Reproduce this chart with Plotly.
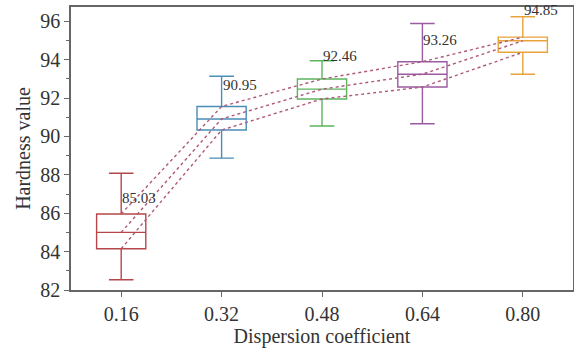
import plotly.graph_objects as go

categories = ["0.16", "0.32", "0.48", "0.64", "0.80"]
lower_whisker = [82.53, 88.87, 90.54, 90.66, 93.24]
q1 = [84.15, 90.33, 91.95, 92.57, 94.38]
median = [85.00, 90.91, 92.46, 93.24, 94.98]
q3 = [85.96, 91.56, 92.99, 93.89, 95.17]
upper_whisker = [88.08, 93.13, 93.94, 95.88, 96.23]
mean_labels = ["85.03", "90.95", "92.46", "93.26", "94.85"]
label_y = [86.80, 92.67, 94.19, 95.03, 96.58]
colors = ["#b5474b", "#4a8db5", "#5cb55c", "#9a5ba0", "#e8a43a"]

FONT = "Liberation Serif"
fig = go.Figure()

for i, cat in enumerate(categories):
    fig.add_trace(go.Box(
        x=[cat], q1=[q1[i]], median=[median[i]], q3=[q3[i]],
        lowerfence=[lower_whisker[i]], upperfence=[upper_whisker[i]],
        width=0.49, whiskerwidth=0.5,
        line=dict(color=colors[i], width=1.4),
        fillcolor="rgba(255,255,255,0)",
        boxpoints=False, hoverinfo="skip", showlegend=False,
    ))

for series in (q3, median, q1):
    fig.add_trace(go.Scatter(
        x=categories, y=series, mode="lines",
        line=dict(color="#b0587a", width=1.4, dash="dot"),
        showlegend=False, hoverinfo="skip",
    ))

for i, cat in enumerate(categories):
    fig.add_annotation(
        x=i, y=label_y[i], text=mean_labels[i], showarrow=False,
        xanchor="left", yanchor="middle", xshift=-1,
        font=dict(family=FONT, size=15, color="#333333"),
    )

fig.update_layout(
    width=574, height=352,
    margin=dict(l=71, r=1, t=7, b=62),
    plot_bgcolor="white", paper_bgcolor="white",
    font=dict(family=FONT, size=20, color="#333333"),
)
fig.update_xaxes(
    type="category", range=[-0.5, 4.5], automargin=False,
    showline=True, mirror=True, linecolor="#666666", linewidth=1.5,
    ticks="outside", ticklen=5, tickcolor="#666666",
    showgrid=False, zeroline=False,
    title=dict(text="Dispersion coefficient", font=dict(size=20), standoff=2),
)
fig.update_yaxes(
    range=[82, 96.74], tickvals=[82, 84, 86, 88, 90, 92, 94, 96], automargin=False,
    showline=True, mirror=True, linecolor="#666666", linewidth=1.5,
    ticks="outside", ticklen=5, tickcolor="#666666",
    minor=dict(tickvals=[83, 85, 87, 89, 91, 93, 95], ticks="outside", ticklen=3, tickcolor="#666666"),
    showgrid=False, zeroline=False,
    title=dict(text="Hardness value", font=dict(size=20), standoff=4),
)

fig.write_html("out.html", config={"displayModeBar": False},
               post_script="document.body.style.margin='0';")
